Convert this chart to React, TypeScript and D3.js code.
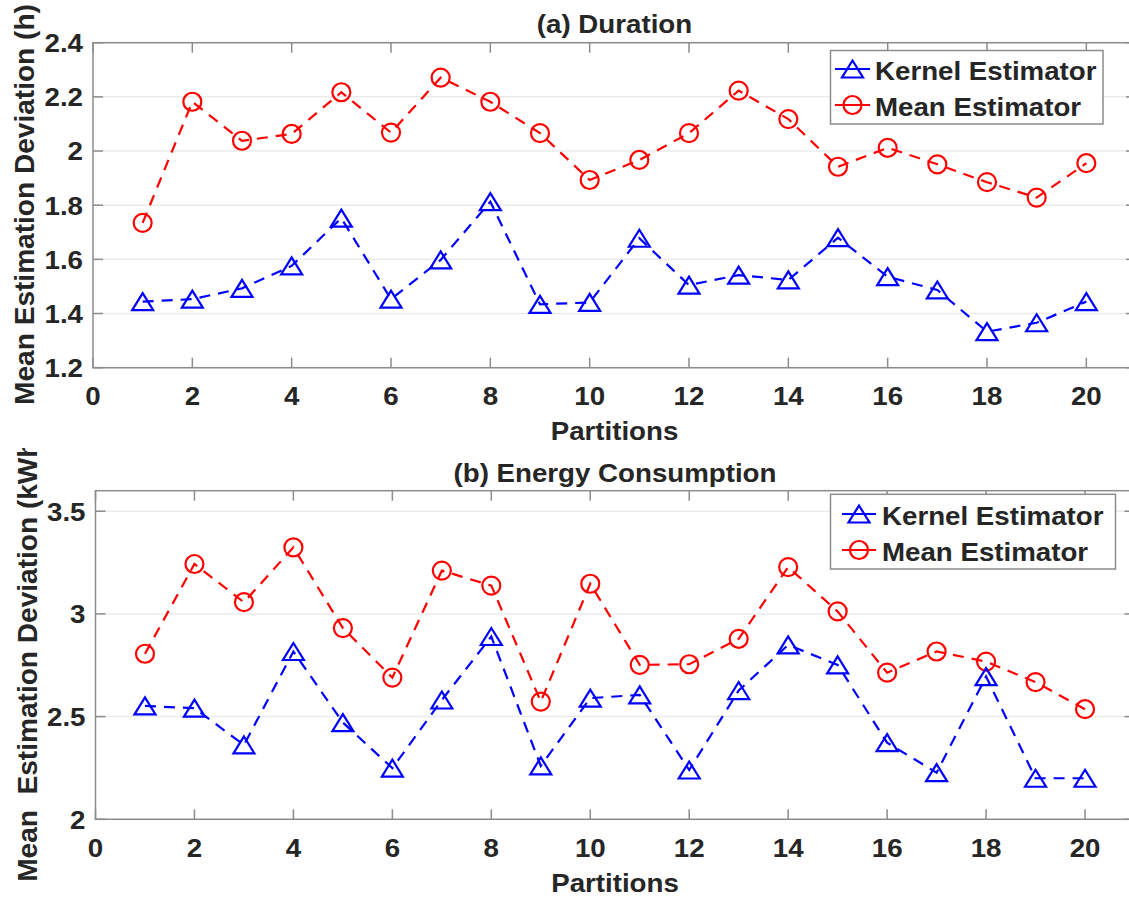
import React from "react";
import * as d3 from "d3";

// ---------- data ----------
const partitions = [1, 2, 3, 4, 5, 6, 7, 8, 9, 10, 11, 12, 13, 14, 15, 16, 17, 18, 19, 20];

const durationKernel = [1.444, 1.453, 1.493, 1.576, 1.752, 1.453, 1.598, 1.813, 1.434, 1.441, 1.678, 1.505, 1.542, 1.524, 1.68, 1.536, 1.487, 1.333, 1.366, 1.444];
const durationMean = [1.735, 2.182, 2.038, 2.063, 2.217, 2.068, 2.271, 2.182, 2.066, 1.893, 1.967, 2.066, 2.223, 2.118, 1.942, 2.012, 1.951, 1.885, 1.828, 1.955];

const energyKernel = [2.552, 2.541, 2.362, 2.817, 2.471, 2.249, 2.581, 2.89, 2.26, 2.59, 2.606, 2.24, 2.627, 2.849, 2.752, 2.373, 2.227, 2.695, 2.2, 2.2];
const energyMean = [2.806, 3.243, 3.057, 3.324, 2.931, 2.69, 3.211, 3.138, 2.573, 3.147, 2.752, 2.755, 2.879, 3.228, 3.012, 2.714, 2.817, 2.768, 2.668, 2.536];

const xTicks = [0, 2, 4, 6, 8, 10, 12, 14, 16, 18, 20];
const durationYTicks = [1.2, 1.4, 1.6, 1.8, 2.0, 2.2, 2.4];
const durationYLabels = ["1.2", "1.4", "1.6", "1.8", "2", "2.2", "2.4"];
const energyYTicks = [2, 2.5, 3, 3.5];
const energyYLabels = ["2", "2.5", "3", "3.5"];

const seriesNames = ["Kernel Estimator", "Mean Estimator"];

// ---------- style ----------
const FONT = "'Liberation Sans', Arial, Helvetica, sans-serif";
const FS = 26;
const SX = 1.065;
const TEXT = "#262626";
const AXIS = "#8c8c8c";
const GRID = "#ebebeb";
const BLUE = "#0000ff";
const RED = "#ff0000";

function T({ x, y, rot = 0, anchor = "start", size = FS, sx = SX, children }: any) {
  return (
    <text
      transform={`translate(${x},${y}) rotate(${rot}) scale(${sx},1)`}
      textAnchor={anchor}
      fontFamily={FONT}
      fontWeight="bold"
      fontSize={size}
      fill={TEXT}
      style={{ whiteSpace: "pre" }}
    >
      {children}
    </text>
  );
}

function Tri({ cx, cy, color }: any) {
  const w = 21, h = 17;
  return (
    <path
      d={`M${cx},${cy - h / 2}L${cx + w / 2},${cy + h / 2}L${cx - w / 2},${cy + h / 2}Z`}
      fill="none"
      stroke={color}
      strokeWidth={2.2}
    />
  );
}

function Circ({ cx, cy, color }: any) {
  return <circle cx={cx} cy={cy} r={9} fill="none" stroke={color} strokeWidth={2.2} />;
}

function Panel({ box, yDomain, yTicks, yLabels, kernel, mean, title, titleY, xTickY, xLabelY, legend }: any) {
  const x = d3.scaleLinear().domain([0, 21]).range([box.left, box.right]);
  const y = d3.scaleLinear().domain(yDomain).range([box.bottom, box.top]);
  const line = d3
    .line<number>()
    .x((_, i) => x(partitions[i]))
    .y((d) => y(d));
  const tickLen = 10;
  const cxMid = (box.left + box.right) / 2;
  return (
    <g>
      {yTicks.map((t: number) => (
        <line key={"g" + t} x1={box.left} x2={box.right} y1={y(t)} y2={y(t)} stroke={GRID} strokeWidth={1.5} />
      ))}
      <rect x={box.left} y={box.top} width={box.right - box.left} height={box.bottom - box.top} fill="none" stroke={AXIS} strokeWidth={1.5} />
      {xTicks.map((t) => (
        <g key={"xt" + t}>
          <line x1={x(t)} x2={x(t)} y1={box.bottom} y2={box.bottom - tickLen} stroke={AXIS} strokeWidth={1.5} />
          <line x1={x(t)} x2={x(t)} y1={box.top} y2={box.top + tickLen} stroke={AXIS} strokeWidth={1.5} />
          <T x={x(t)} y={xTickY} anchor="middle">{String(t)}</T>
        </g>
      ))}
      {yTicks.map((t: number, i: number) => (
        <g key={"yt" + t}>
          <line x1={box.left} x2={box.left + tickLen} y1={y(t)} y2={y(t)} stroke={AXIS} strokeWidth={1.5} />
          <line x1={box.right} x2={box.right - tickLen} y1={y(t)} y2={y(t)} stroke={AXIS} strokeWidth={1.5} />
          <T x={box.left - 10} y={y(t) + 9.3} anchor="end">{yLabels[i]}</T>
        </g>
      ))}
      <path d={line(mean) || ""} fill="none" stroke={RED} strokeWidth={2.2} strokeDasharray="11,8" />
      <path d={line(kernel) || ""} fill="none" stroke={BLUE} strokeWidth={2.2} strokeDasharray="11,8" />
      {mean.map((v: number, i: number) => (
        <Circ key={"m" + i} cx={x(partitions[i])} cy={y(v)} color={RED} />
      ))}
      {kernel.map((v: number, i: number) => (
        <Tri key={"k" + i} cx={x(partitions[i])} cy={y(v)} color={BLUE} />
      ))}
      <T x={cxMid} y={titleY} anchor="middle">{title}</T>
      <T x={cxMid} y={xLabelY} anchor="middle">Partitions</T>
      <rect x={legend.x} y={legend.y} width={legend.w} height={legend.h} fill="#ffffff" stroke={AXIS} strokeWidth={1.5} />
      {[0, 1].map((k) => {
        const ry = legend.rows[k];
        const color = k === 0 ? BLUE : RED;
        return (
          <g key={"lg" + k}>
            <line x1={legend.lx1} x2={legend.lx2} y1={ry} y2={ry} stroke={color} strokeWidth={2.2} />
            {k === 0 ? (
              <Tri cx={(legend.lx1 + legend.lx2) / 2} cy={ry} color={color} />
            ) : (
              <Circ cx={(legend.lx1 + legend.lx2) / 2} cy={ry} color={color} />
            )}
            <T x={legend.tx} y={ry + 10.5}>{seriesNames[k]}</T>
          </g>
        );
      })}
    </g>
  );
}

export default function App() {
  return (
    <svg
      width={1129}
      height={899}
      style={{ position: "absolute", left: 0, top: 0, background: "#ffffff" }}
    >
      <rect x={0} y={0} width={1129} height={899} fill="#ffffff" />
      <defs>
        <clipPath id="clipLabelB">
          <rect x={0} y={448} width={200} height={451} />
        </clipPath>
      </defs>
      <Panel
        box={{ left: 93, right: 1136, top: 42.7, bottom: 367.7 }}
        yDomain={[1.2, 2.4]}
        yTicks={durationYTicks}
        yLabels={durationYLabels}
        kernel={durationKernel}
        mean={durationMean}
        title="(a) Duration"
        titleY={33.3}
        xTickY={405}
        xLabelY={440}
        legend={{ x: 830.5, y: 50.5, w: 272.5, h: 73.5, rows: [69, 105], lx1: 835, lx2: 870, tx: 875 }}
      />
      <Panel
        box={{ left: 95.5, right: 1134.5, top: 490.7, bottom: 819.3 }}
        yDomain={[2, 3.6]}
        yTicks={energyYTicks}
        yLabels={energyYLabels}
        kernel={energyKernel}
        mean={energyMean}
        title="(b) Energy Consumption"
        titleY={481.7}
        xTickY={857}
        xLabelY={891.5}
        legend={{ x: 830.5, y: 494.3, w: 285, h: 74.7, rows: [514, 550], lx1: 842, lx2: 876, tx: 882 }}
      />
      <T x={33.5} y={204.5} rot={-90} anchor="middle" size={27} sx={1.04}>Mean Estimation Deviation (h)</T>
      <g clipPath="url(#clipLabelB)">
        <T x={37} y={656.5} rot={-90} anchor="middle" size={27} sx={1.04}>{"Mean  Estimation Deviation (kWh)"}</T>
      </g>
    </svg>
  );
}
